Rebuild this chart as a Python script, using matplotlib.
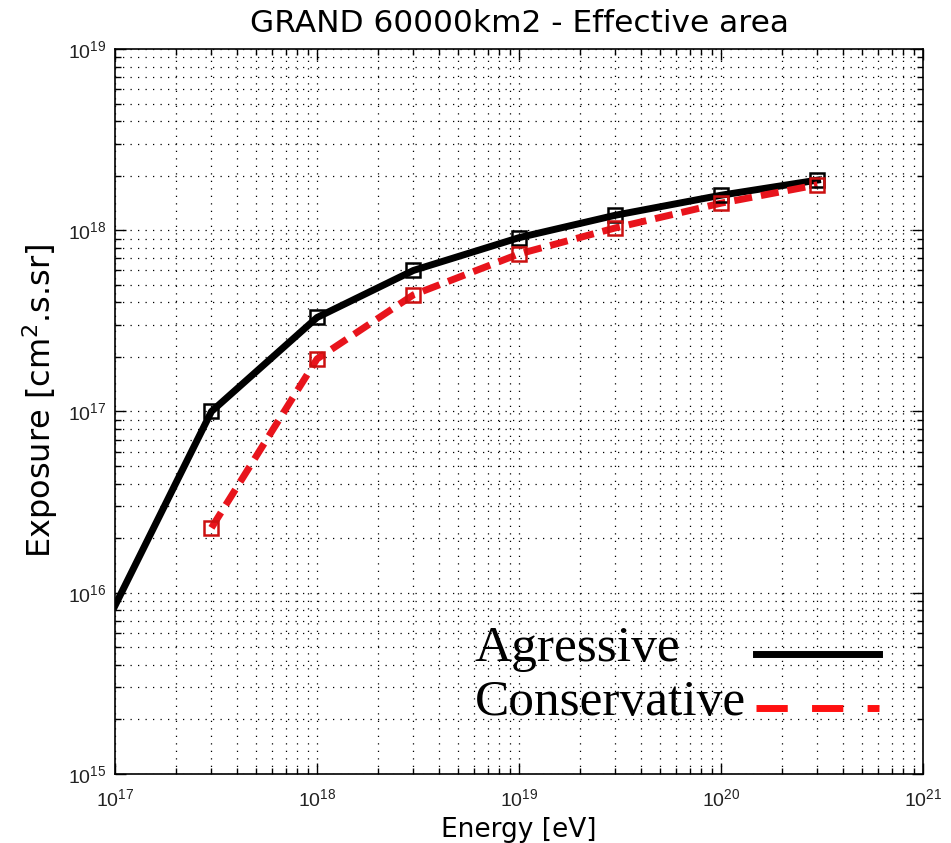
import matplotlib
matplotlib.use("Agg")
import matplotlib.pyplot as plt
from matplotlib.lines import Line2D
from matplotlib.ticker import LogLocator, NullFormatter

plt.rcParams['font.family'] = ['Liberation Sans', 'DejaVu Sans']
plt.rcParams['mathtext.default'] = 'regular'

# energies [eV]
energy_agr = [1e17, 3e17, 1e18, 3e18, 1e19, 3e19, 1e20, 3e20]
exposure_agr = [8.5e15, 1.0e17, 3.3e17, 6.0e17, 9.1e17, 1.21e18, 1.56e18, 1.89e18]

energy_cons = [3e17, 1e18, 3e18, 1e19, 3e19, 1e20, 3e20]
exposure_cons = [2.28e16, 1.95e17, 4.4e17, 7.4e17, 1.03e18, 1.41e18, 1.78e18]

fig = plt.figure(figsize=(9.51, 8.43), dpi=100)
ax = fig.add_axes([0.121, 0.0819, 0.8496, 0.86])

# black line: first point (1e17) has no marker
ax.plot(energy_agr, exposure_agr, color='black', lw=5, zorder=3)
ax.plot(energy_agr[1:], exposure_agr[1:], ls='none', marker='s', ms=10,
        mfc='none', mec='black', mew=1.8, zorder=4)
ax.plot(energy_cons, exposure_cons, color='#e8141c', lw=5, ls=(0, (2.6, 1.3)), zorder=3)
ax.plot(energy_cons, exposure_cons, ls='none', marker='s', ms=10,
        mfc='none', mec='#cc1010', mew=1.8, zorder=4)

ax.set_xscale('log')
ax.set_yscale('log')
ax.set_xlim(1e17, 1e21)
ax.set_ylim(1e15, 1e19)

for axis in (ax.xaxis, ax.yaxis):
    axis.set_major_locator(LogLocator(base=10, numticks=10))
    axis.set_minor_locator(LogLocator(base=10, subs=range(2, 10), numticks=10))
    axis.set_minor_formatter(NullFormatter())

ax.tick_params(which='both', direction='in', top=True, right=True, width=1)
ax.tick_params(which='major', length=8, labelsize=14, pad=10, labelcolor='#222222')
ax.tick_params(axis='y', which='major', pad=6)
ax.tick_params(which='minor', length=4)
ax.grid(True, which='both', color='black', ls=(0, (1, 5)), lw=0.9)
for s in ax.spines.values():
    s.set_linewidth(1.2)

ax.set_title('GRAND 60000km2 - Effective area', fontsize=22.5, pad=12,
             family='DejaVu Sans')
ax.set_xlabel('Energy [eV]', fontsize=19, family='DejaVu Sans')
ax.xaxis.set_label_coords(0.5, -0.059)
ax.set_ylabel('Exposure [cm$^2$.s.sr]', fontsize=23, family='DejaVu Sans')
ax.yaxis.set_label_coords(-0.068, 0.515)

handles = [Line2D([], [], color='black', lw=5),
           Line2D([], [], color='#ff1010', lw=5, ls=(0, (4.5, 3.5)))]
leg = ax.legend(handles, ['Agressive', 'Conservative'], loc='upper left',
                bbox_to_anchor=(0.445, 0.206), frameon=False, markerfirst=False,
                prop={'family': 'Liberation Serif', 'size': 37},
                handlelength=2.4, handletextpad=0.2, labelspacing=0.15,
                borderpad=0, borderaxespad=0)

# text left-aligned, handles lined up in one column after the longest label
fig.canvas.draw()
renderer = fig.canvas.get_renderer()
widths = [t.get_window_extent(renderer).width for t in leg.get_texts()]
column = leg._legend_handle_box.get_children()[0]
column.align = 'left'
for row, w in zip(column.get_children(), widths):
    row.sep += (max(widths) - w) * 72.0 / fig.dpi
# lines sit near the text baseline
for h in leg.legend_handles:
    h.set_ydata([y - 8 for y in h.get_ydata()])

fig.savefig('out.png', dpi=100)
